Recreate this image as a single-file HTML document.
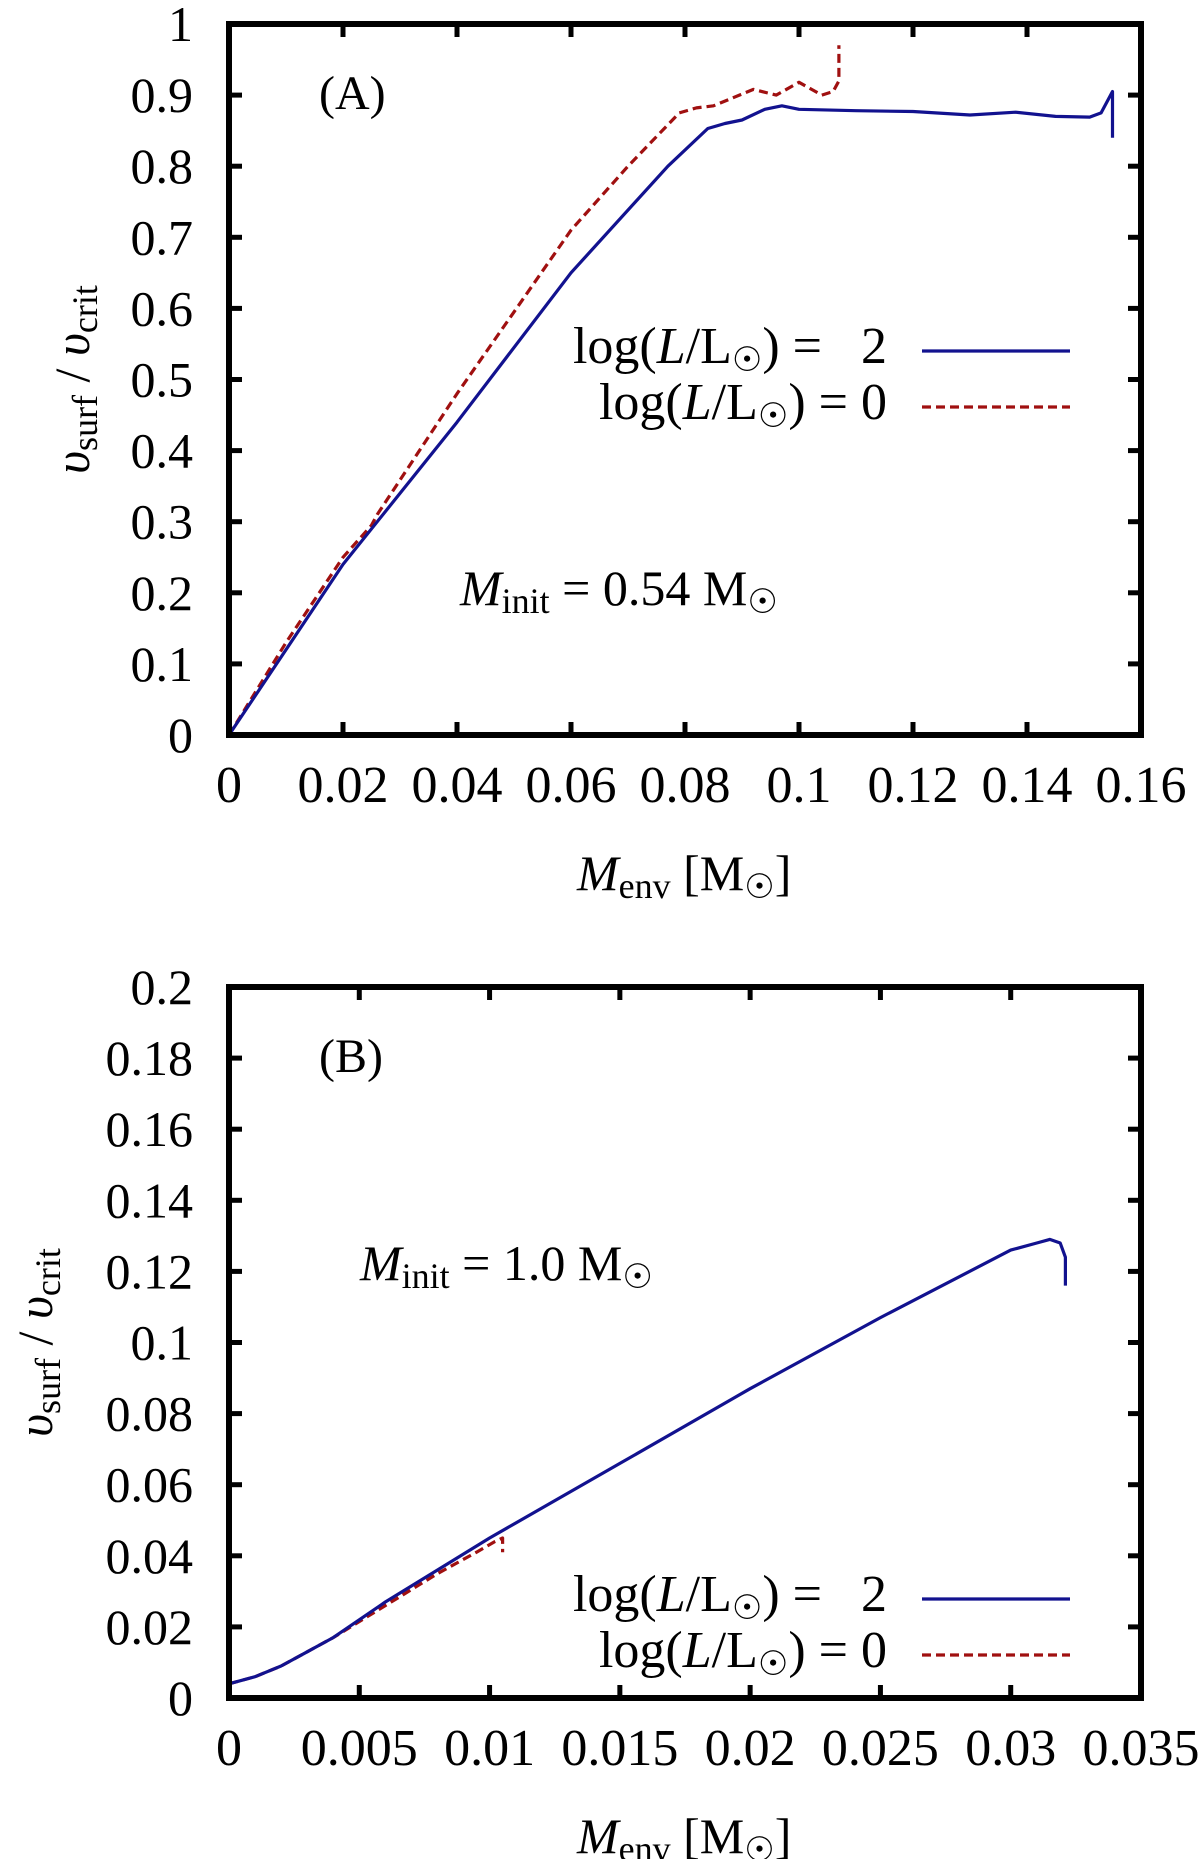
<!DOCTYPE html>
<html><head><meta charset="utf-8"><style>
html,body{margin:0;padding:0;background:#fff;width:1200px;height:1859px;overflow:hidden}
svg{display:block;font-family:"Liberation Serif","DejaVu Serif",serif}
text{white-space:pre}
</style></head><body>
<svg id="fig" width="1200" height="1859" viewBox="0 0 1200 1859" xmlns="http://www.w3.org/2000/svg"></svg>
<script>
// Panel A data
const aXTicks = [0,0.02,0.04,0.06,0.08,0.1,0.12,0.14,0.16];
const aXTickLabels = ["0","0.02","0.04","0.06","0.08","0.1","0.12","0.14","0.16"];
const aYTicks = [0,0.1,0.2,0.3,0.4,0.5,0.6,0.7,0.8,0.9,1];
const aYTickLabels = ["0","0.1","0.2","0.3","0.4","0.5","0.6","0.7","0.8","0.9","1"];
const aBlueX = [0,0.02,0.04,0.06,0.077,0.084,0.087,0.09,0.094,0.097,0.1,0.11,0.12,0.13,0.138,0.145,0.151,0.153,0.155,0.155];
const aBlueY = [0,0.24,0.44,0.65,0.8,0.853,0.86,0.865,0.88,0.885,0.88,0.878,0.877,0.872,0.876,0.87,0.869,0.875,0.905,0.84];
const aRedX = [0,0.01,0.02,0.025,0.026,0.04,0.06,0.07,0.079,0.082,0.085,0.092,0.096,0.1,0.104,0.106,0.107,0.107];
const aRedY = [0,0.13,0.25,0.295,0.31,0.48,0.71,0.8,0.875,0.882,0.885,0.908,0.9,0.918,0.9,0.905,0.92,0.97];
// Panel B data
const bXTicks = [0,0.005,0.01,0.015,0.02,0.025,0.03,0.035];
const bXTickLabels = ["0","0.005","0.01","0.015","0.02","0.025","0.03","0.035"];
const bYTicks = [0,0.02,0.04,0.06,0.08,0.1,0.12,0.14,0.16,0.18,0.2];
const bYTickLabels = ["0","0.02","0.04","0.06","0.08","0.1","0.12","0.14","0.16","0.18","0.2"];
const bBlueX = [0,0.001,0.002,0.003,0.004,0.006,0.008,0.01,0.015,0.02,0.025,0.03,0.031,0.0315,0.0319,0.0321,0.0321];
const bBlueY = [0.004,0.006,0.009,0.013,0.017,0.027,0.036,0.045,0.066,0.087,0.107,0.126,0.128,0.129,0.128,0.124,0.116];
const bRedX = [0,0.001,0.002,0.003,0.004,0.006,0.008,0.0095,0.0102,0.0105,0.0105];
const bRedY = [0.004,0.006,0.009,0.013,0.017,0.026,0.035,0.041,0.044,0.045,0.041];

const NS="http://www.w3.org/2000/svg";
const svg=document.getElementById('fig');
function mk(tag,attrs,parent){const e=document.createElementNS(NS,tag);for(const k in attrs)e.setAttribute(k,attrs[k]);(parent||svg).appendChild(e);return e;}

function panel(o){
  const g=mk('g',{});
  
  
  const L=229,R=1141,T=o.top,B=o.top+711;
  const sx=v=>L+(v-o.xmin)/(o.xmax-o.xmin)*(R-L);
  const sy=v=>B-(v-o.ymin)/(o.ymax-o.ymin)*(B-T);
  o.xt.forEach((v,i)=>{
    const x=sx(v);
    const t1=mk('line',{x1:x,x2:x,y1:B,y2:B-13,stroke:'#000','stroke-width':5},g);
    
    
    mk('line',{x1:x,x2:x,y1:T,y2:T+13,stroke:'#000','stroke-width':5},g);
    const tx=mk('text',{x:x,y:B+67,'font-size':52,'text-anchor':'middle'},g);
    tx.textContent=o.xl[i];
    
    
  });
  o.yt.forEach((v,i)=>{
    const y=sy(v);
    const t1=mk('line',{x1:L,x2:L+13,y1:y,y2:y,stroke:'#000','stroke-width':5},g);
    
    
    mk('line',{x1:R,x2:R-13,y1:y,y2:y,stroke:'#000','stroke-width':5},g);
    const tx=mk('text',{x:193,y:y+17,'font-size':50,'text-anchor':'end'},g);
    tx.textContent=o.yl[i];
    
    
  });
  const pts=(xs,ys)=>xs.map((x,i)=>sx(x).toFixed(1)+','+sy(ys[i]).toFixed(1)).join(' ');
  const red=mk('polyline',{points:pts(o.rx,o.ry),fill:'none',stroke:'#a01010','stroke-width':3.2,'stroke-dasharray':'9,5','stroke-linejoin':'round'},g);
  
  
  const blue=mk('polyline',{points:pts(o.bx,o.by),fill:'none',stroke:'#12128f','stroke-width':3.2,'stroke-linejoin':'round'},g);
  
  
  const fr=mk('rect',{x:L,y:T,width:R-L,height:B-T,fill:'none',stroke:'#000','stroke-width':6},g);
  
  
  const lg=mk('g',{},g);
  
  
  const r1=T+o.legY, r2=r1+56;
  const l1=mk('text',{x:887,y:r1+12,'font-size':52,'text-anchor':'end'},lg);
  l1.innerHTML='log(<tspan font-style="italic">L</tspan>/L<tspan font-size="34" dy="8">☉</tspan><tspan dy="-8">) =   2</tspan>';
  
  
  mk('line',{x1:922,x2:1070,y1:r1,y2:r1,stroke:'#12128f','stroke-width':3.2},lg);
  const l2=mk('text',{x:887,y:r2+12,'font-size':52,'text-anchor':'end'},lg);
  l2.innerHTML='log(<tspan font-style="italic">L</tspan>/L<tspan font-size="34" dy="8">☉</tspan><tspan dy="-8">) = 0</tspan>';
  
  
  mk('line',{x1:922,x2:1070,y1:r2,y2:r2,stroke:'#a01010','stroke-width':3.2,'stroke-dasharray':'9,5'},lg);
  const pl=mk('text',{x:319,y:T+85,'font-size':48},g);
  pl.textContent=o.label;
  
  
  const mi=mk('text',{x:o.miX,y:T+o.miY,'font-size':50},g);
  mi.innerHTML='<tspan font-style="italic">M</tspan><tspan font-size="36" dy="8">init</tspan><tspan dy="-8"> = '+o.mval+' M</tspan><tspan font-size="34" dy="8">☉</tspan>';
  
  
  const xt=mk('text',{x:577,y:B+155,'font-size':50},g);
  xt.innerHTML='<tspan font-style="italic">M</tspan><tspan font-size="36" dy="8">env</tspan><tspan dy="-8"> [M</tspan><tspan font-size="34" dy="8">☉</tspan><tspan dy="-8">]</tspan>';
  
  
  const cy=(T+B)/2;
  const yt=mk('text',{x:0,y:0,'font-size':50,'text-anchor':'middle',transform:'translate('+(o.ytX+17)+','+cy+') rotate(-90)'},g);
  yt.innerHTML='<tspan font-style="italic">υ</tspan><tspan font-size="36" dy="8">surf</tspan><tspan dy="-8"> / </tspan><tspan font-style="italic">υ</tspan><tspan font-size="36" dy="8">crit</tspan>';
  
  
}
panel({name:'panel-a',top:24,xmin:0,xmax:0.16,ymin:0,ymax:1,xt:aXTicks,xl:aXTickLabels,yt:aYTicks,yl:aYTickLabels,
  bx:aBlueX,by:aBlueY,rx:aRedX,ry:aRedY,legY:327,label:'(A)',miX:460,miY:581,mval:'0.54',ytX:72});
panel({name:'panel-b',top:987,xmin:0,xmax:0.035,ymin:0,ymax:0.2,xt:bXTicks,xl:bXTickLabels,yt:bYTicks,yl:bYTickLabels,
  bx:bBlueX,by:bBlueY,rx:bRedX,ry:bRedY,legY:612,label:'(B)',miX:360,miY:293,mval:'1.0',ytX:35});
</script>
</body></html>
